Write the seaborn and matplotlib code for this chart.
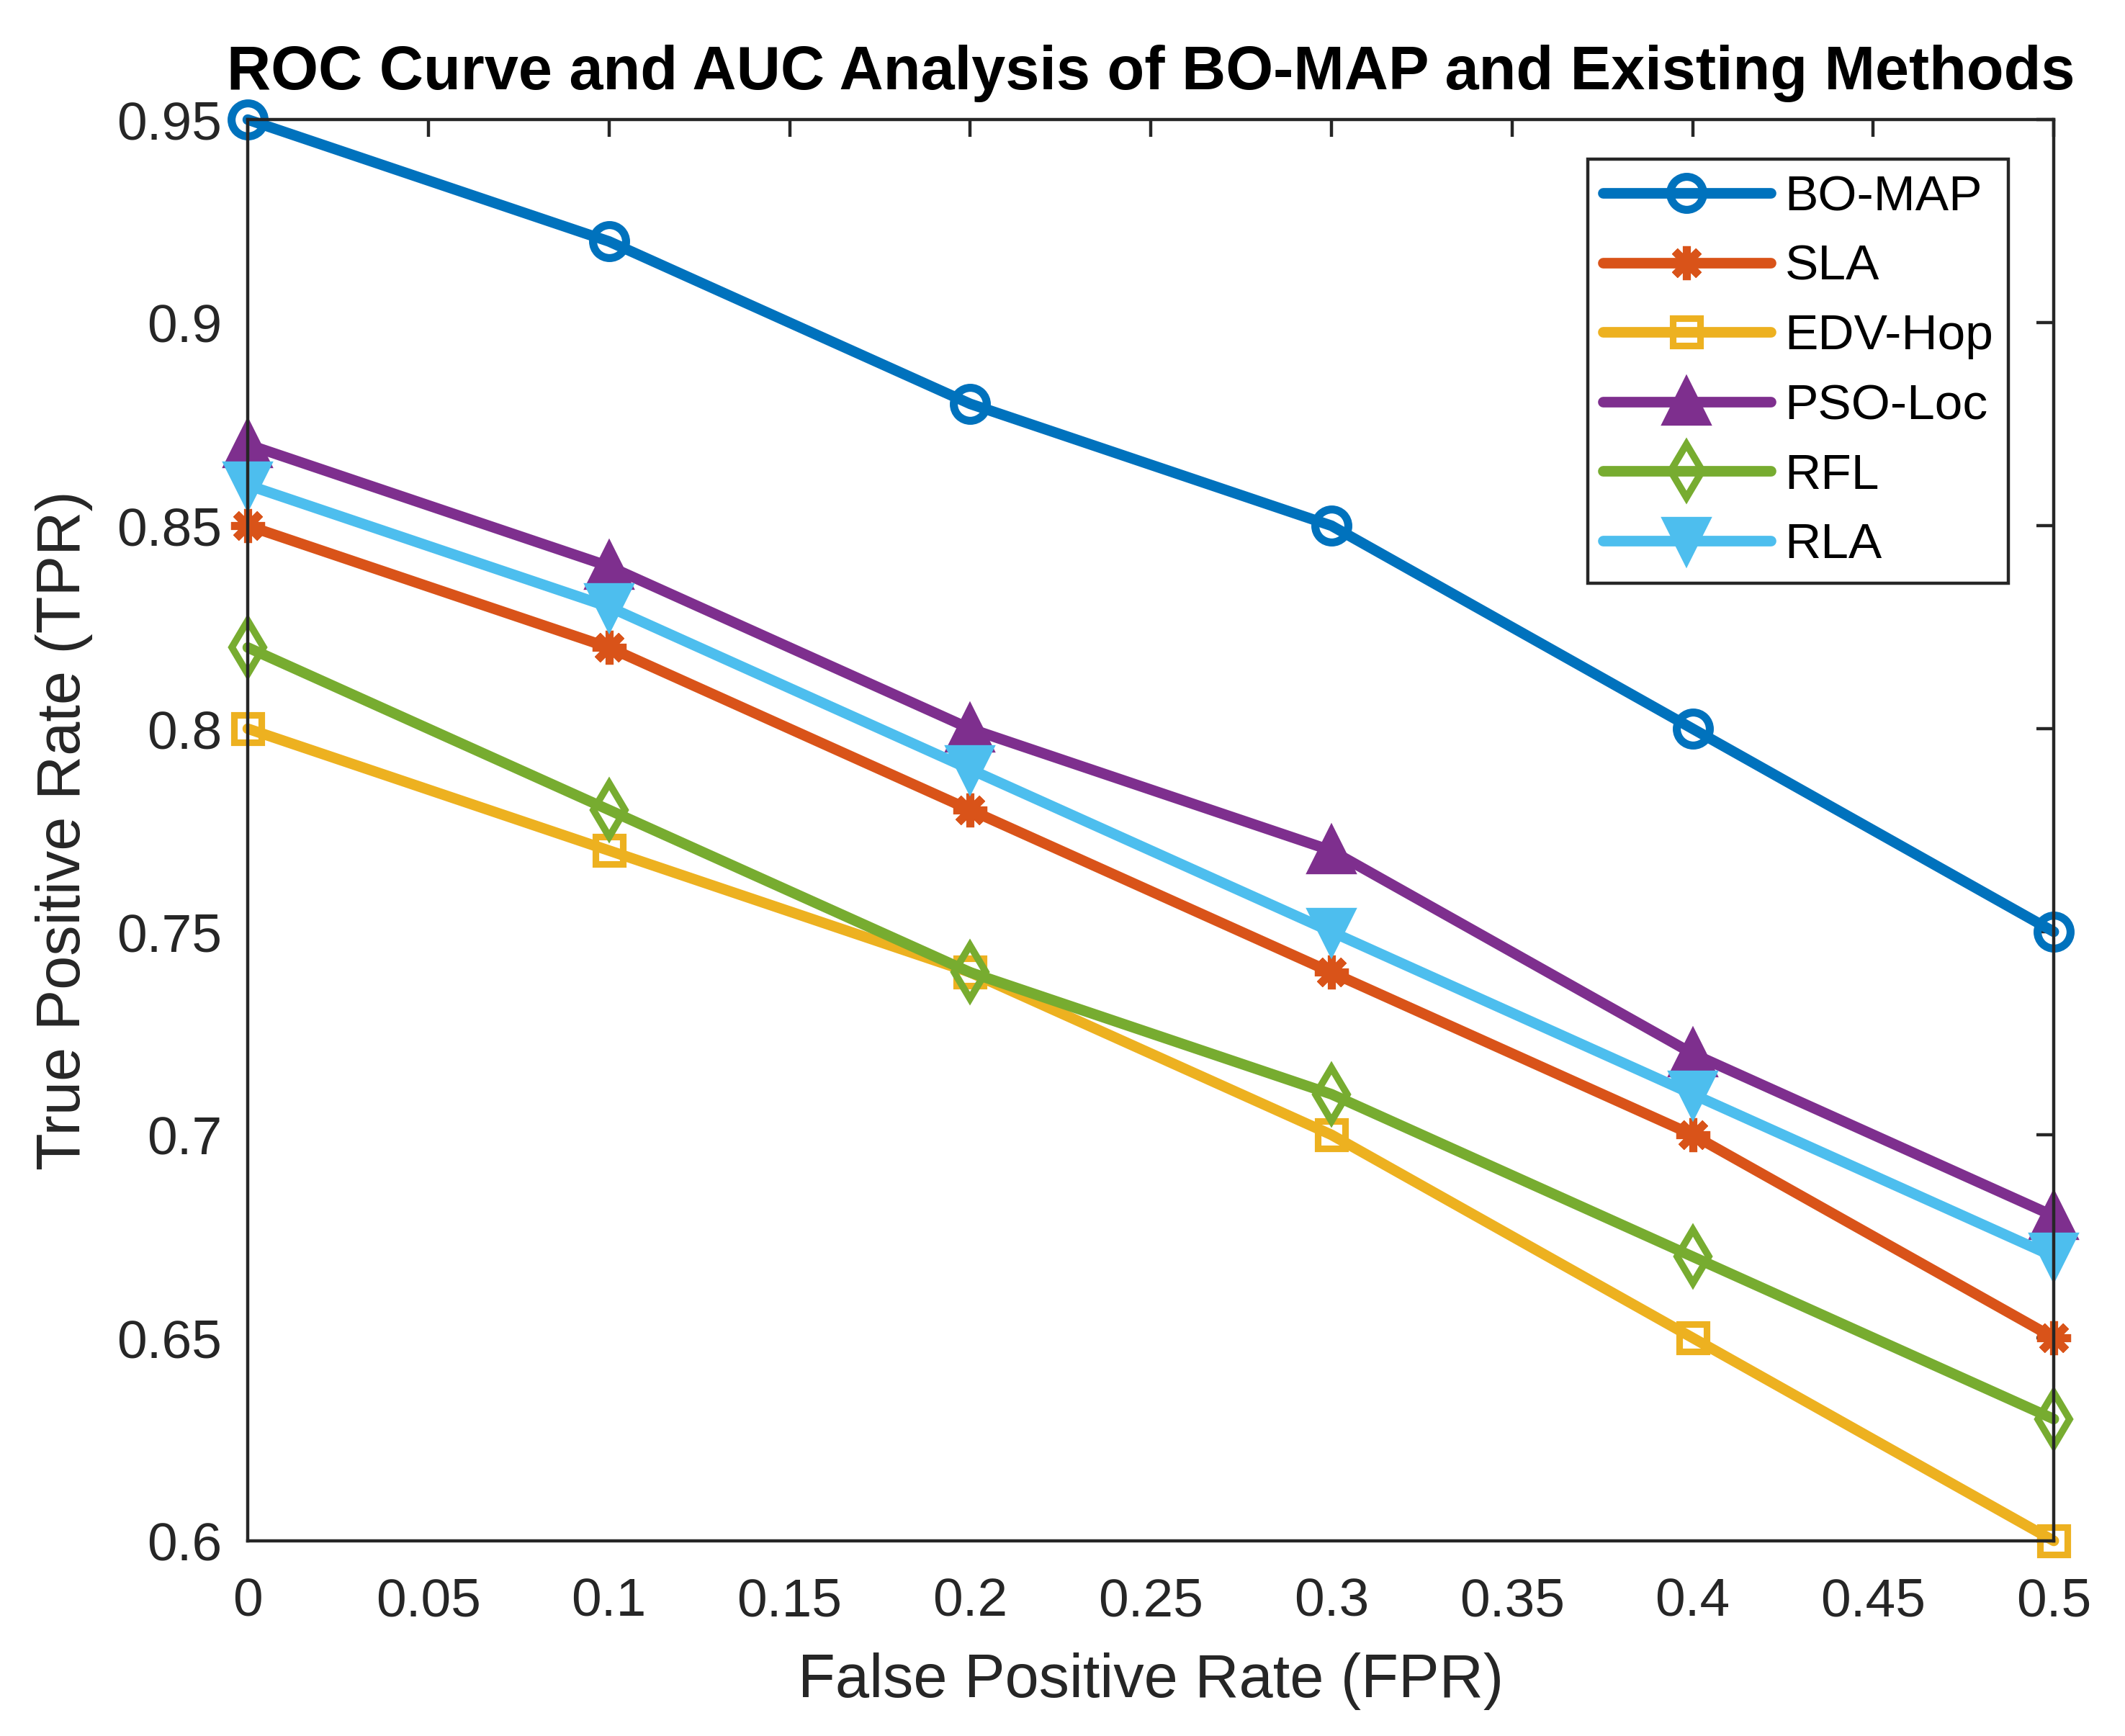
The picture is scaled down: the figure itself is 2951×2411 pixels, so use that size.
import numpy as np
import pandas as pd
import matplotlib
matplotlib.use("Agg")
import matplotlib.pyplot as plt
import seaborn as sns

# ---- data ----
fpr = [0.0, 0.1, 0.2, 0.3, 0.4, 0.5]
methods = ["BO-MAP", "SLA", "EDV-Hop", "PSO-Loc", "RFL", "RLA"]
bo_map = [0.95, 0.92, 0.88, 0.85, 0.80, 0.75]
sla = [0.85, 0.82, 0.78, 0.74, 0.70, 0.65]
edv_hop = [0.80, 0.77, 0.74, 0.70, 0.65, 0.60]
pso_loc = [0.87, 0.84, 0.80, 0.77, 0.72, 0.68]
rfl = [0.82, 0.78, 0.74, 0.71, 0.67, 0.63]
rla = [0.86, 0.83, 0.79, 0.75, 0.71, 0.67]
xticks = [0, 0.05, 0.1, 0.15, 0.2, 0.25, 0.3, 0.35, 0.4, 0.45, 0.5]
xtick_labels = ["0", "0.05", "0.1", "0.15", "0.2", "0.25", "0.3", "0.35", "0.4", "0.45", "0.5"]
yticks = [0.6, 0.65, 0.7, 0.75, 0.8, 0.85, 0.9, 0.95]
ytick_labels = ["0.6", "0.65", "0.7", "0.75", "0.8", "0.85", "0.9", "0.95"]

series = {"BO-MAP": bo_map, "SLA": sla, "EDV-Hop": edv_hop,
          "PSO-Loc": pso_loc, "RFL": rfl, "RLA": rla}
df = pd.DataFrame([{"FPR": x, "TPR": y, "Method": m}
                   for m in methods for x, y in zip(fpr, series[m])])

# ---- style ----
sns.set_style("white")
plt.rcParams["font.family"] = ["Liberation Sans", "DejaVu Sans"]

colors = {"BO-MAP": "#0072BD", "SLA": "#D95319", "EDV-Hop": "#EDB120",
          "PSO-Loc": "#7E2F8E", "RFL": "#77AC30", "RLA": "#4DBEEE"}
styles = {
    "BO-MAP": dict(marker="o", markersize=16.5, mfc="none", mew=4.0),
    "SLA": dict(marker=(8, 2, 0), markersize=17, mew=4.0),
    "EDV-Hop": dict(marker="s", markersize=14, mfc="none", mew=3.3),
    "PSO-Loc": dict(marker="^", markersize=21, mew=3.0),
    "RFL": dict(marker="d", markersize=19, mfc="none", mew=3.5),
    "RLA": dict(marker="v", markersize=21, mew=3.0),
}

fig = plt.figure(figsize=(14.755, 12.055), dpi=200)
ax = fig.add_axes([0.1166, 0.1124, 0.8499, 0.8187])

for m in methods:
    st = dict(styles[m])
    c = colors[m]
    if st.get("mfc") != "none":
        st["mfc"] = c
    sns.lineplot(data=df[df["Method"] == m], x="FPR", y="TPR", ax=ax,
                 color=c, linewidth=5.3, mec=c, label=m, clip_on=False,
                 **st)

ax.set_xlim(0, 0.5)
ax.set_ylim(0.6, 0.95)
ax.set_xticks(xticks)
ax.set_xticklabels(xtick_labels)
ax.set_yticks(yticks)
ax.set_yticklabels(ytick_labels)

for sp in ax.spines.values():
    sp.set_color("#262626")
    sp.set_linewidth(1.6)
ax.tick_params(axis="both", which="both", direction="in", length=8.5, width=1.6,
               color="#262626", labelcolor="#262626", labelsize=27,
               top=True, right=True)
ax.tick_params(axis="x", pad=18)
ax.tick_params(axis="y", pad=13)

ax.set_xlabel("False Positive Rate (FPR)", fontsize=30.5, color="#262626", labelpad=13)
ax.set_ylabel("True Positive Rate (TPR)", fontsize=30.5, color="#262626", labelpad=12)
ax.set_title("ROC Curve and AUC Analysis of BO-MAP and Existing Methods",
             fontsize=30.5, fontweight="bold", color="black", pad=15)

leg = ax.legend(loc="upper right", bbox_to_anchor=(0.975, 0.972), borderaxespad=0,
                fontsize=25, handlelength=3.35, handletextpad=0.29, labelspacing=0.47,
                borderpad=0.3, fancybox=False, framealpha=1, edgecolor="#262626")
leg.get_frame().set_linewidth(1.6)
for t in leg.get_texts():
    t.set_color("black")

fig.savefig("out.png", dpi=200)
